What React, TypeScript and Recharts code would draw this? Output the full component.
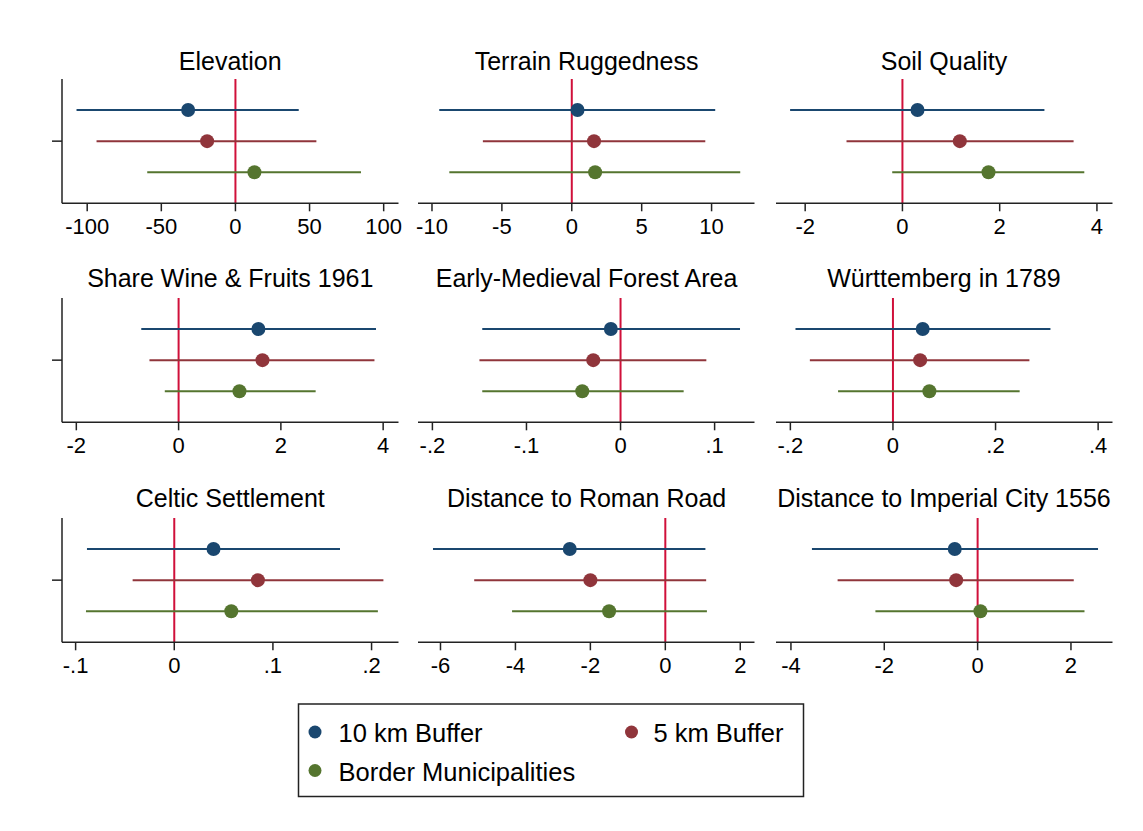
import React from 'react';
import { ScatterChart, Scatter, XAxis, YAxis, ErrorBar, ReferenceLine } from 'recharts';

const FONT = '"Liberation Sans", Arial, Helvetica, sans-serif';

// Panel titles (categories)
const panelTitles = [
  'Elevation',
  'Terrain Ruggedness',
  'Soil Quality',
  'Share Wine & Fruits 1961',
  'Early-Medieval Forest Area',
  'Württemberg in 1789',
  'Celtic Settlement',
  'Distance to Roman Road',
  'Distance to Imperial City 1556',
];

const seriesNames = ['10 km Buffer', '5 km Buffer', 'Border Municipalities'];
const seriesColors = ['#1a476f', '#90353b', '#55752f'];

// 10 km Buffer
const est10 = [-31.9, 0.41, 0.31, 1.56, -0.0103, 0.058, 0.0398, -2.55, -0.49];
const lo10 = [-107.2, -9.48, -2.31, -0.73, -0.147, -0.19, -0.0885, -6.2, -3.55];
const hi10 = [42.7, 10.26, 2.92, 3.86, 0.127, 0.307, 0.168, 1.07, 2.58];
// 5 km Buffer
const est5 = [-19.1, 1.59, 1.18, 1.64, -0.029, 0.053, 0.0848, -2.0, -0.46];
const lo5 = [-93.7, -6.36, -1.15, -0.57, -0.15, -0.162, -0.0422, -5.1, -3.0];
const hi5 = [54.6, 9.55, 3.52, 3.83, 0.0912, 0.266, 0.212, 1.09, 2.06];
// Border Municipalities
const estB = [12.8, 1.67, 1.77, 1.19, -0.0407, 0.071, 0.0578, -1.5, 0.06];
const loB = [-59.5, -8.76, -0.21, -0.27, -0.147, -0.107, -0.0895, -4.09, -2.19];
const hiB = [84.7, 12.05, 3.74, 2.68, 0.0671, 0.247, 0.2064, 1.11, 2.29];

// Axis ticks and ranges
const tickValues = [
  [-100, -50, 0, 50, 100],
  [-10, -5, 0, 5, 10],
  [-2, 0, 2, 4],
  [-2, 0, 2, 4],
  [-0.2, -0.1, 0, 0.1],
  [-0.2, 0, 0.2, 0.4],
  [-0.1, 0, 0.1, 0.2],
  [-6, -4, -2, 0, 2],
  [-4, -2, 0, 2],
];
const axisRanges = [
  [-117, 110],
  [-11, 13.07],
  [-2.6, 4.32],
  [-2.28, 4.3],
  [-0.2153, 0.1424],
  [-0.228, 0.428],
  [-0.1138, 0.2273],
  [-6.6, 2.38],
  [-4.32, 2.89],
];

const SERIES = [
  { name: seriesNames[0], color: seriesColors[0], est: est10, lo: lo10, hi: hi10, row: 3 },
  { name: seriesNames[1], color: seriesColors[1], est: est5, lo: lo5, hi: hi5, row: 2 },
  { name: seriesNames[2], color: seriesColors[2], est: estB, lo: loB, hi: hiB, row: 1 },
];

const COL_LEFT = [62, 418.3, 775.7];
const ROW_TOP = [79, 298.3, 517.7];
const TITLE_BASE = [69.5, 287, 507];
const PW = 336.5;
const PH = 124.3;
const PAD = 20;
const YW = 14;
const PADT = 5;
const XH = 45;
const AX = '#222';
const ZERO = '#d0103a';

const fmt = (v: number) => {
  const s = String(Math.round(v * 1000) / 1000);
  return s.replace(/^(-?)0\./, '$1.');
};

function Panel({ i }: { i: number }) {
  const col = i % 3;
  const row = Math.floor(i / 3);
  const left = COL_LEFT[col];
  const top = ROW_TOP[row];
  const showY = col === 0;
  return (
    <div style={{ position: 'absolute', left: left - PAD, top: top - PADT }}>
      <ScatterChart
        width={PW + 2 * PAD}
        height={PH + PADT + XH}
        margin={{ top: PADT, right: PAD, left: showY ? PAD - YW : PAD, bottom: 0 }}
      >
        <XAxis
          type="number"
          dataKey="x"
          domain={axisRanges[i]}
          ticks={tickValues[i]}
          allowDataOverflow
          interval={0}
          height={XH}
          tickSize={8}
          tickMargin={7}
          tickFormatter={fmt}
          fontSize={22}
          fontFamily={FONT}
          axisLine={{ stroke: AX, strokeWidth: 1.5 }}
          tickLine={{ stroke: AX, strokeWidth: 1.5 }}
          tick={{ fill: '#000', fontSize: 22, fontFamily: FONT }}
        />
        <YAxis
          type="number"
          dataKey="y"
          domain={[0, 4]}
          ticks={[2]}
          hide={!showY}
          width={YW}
          tickFormatter={() => ''}
          tickSize={10}
          axisLine={{ stroke: AX, strokeWidth: 1.5 }}
          tickLine={{ stroke: AX, strokeWidth: 1.5 }}
        />
        <ReferenceLine x={0} stroke={ZERO} strokeWidth={2} />
        {SERIES.map((s) => (
          <Scatter
            key={s.name}
            name={s.name}
            isAnimationActive={false}
            data={[
              {
                x: s.est[i],
                y: s.row,
                err: [s.est[i] - s.lo[i], s.hi[i] - s.est[i]],
              },
            ]}
            fill={s.color}
            shape={(p: any) => <circle cx={p.cx} cy={p.cy} r={7} fill={s.color} />}
          >
            <ErrorBar dataKey="err" direction="x" width={0} stroke={s.color} strokeWidth={2} />
          </Scatter>
        ))}
      </ScatterChart>
    </div>
  );
}

export default function App() {
  return (
    <div
      style={{
        position: 'absolute',
        left: 0,
        top: 0,
        width: 1143,
        height: 831,
        background: '#fff',
        fontFamily: FONT,
      }}
    >
      {panelTitles.map((_, i) => (
        <Panel key={i} i={i} />
      ))}
      <svg
        width={1143}
        height={831}
        style={{ position: 'absolute', left: 0, top: 0, pointerEvents: 'none' }}
      >
        {panelTitles.map((t, i) => (
          <text
            key={t}
            x={COL_LEFT[i % 3] + PW / 2}
            y={TITLE_BASE[Math.floor(i / 3)]}
            textAnchor="middle"
            fontSize={25}
            fontFamily={FONT}
            fill="#000"
          >
            {t}
          </text>
        ))}
        <rect x={298.5} y={704} width={505} height={92.5} fill="#fff" stroke={AX} strokeWidth={1.5} />
        {[
          { k: 0, cx: 315, cy: 732, tx: 338.5, ty: 741.5 },
          { k: 1, cx: 631.5, cy: 732, tx: 653.5, ty: 741.5 },
          { k: 2, cx: 315, cy: 770.5, tx: 338.5, ty: 780.5 },
        ].map((it) => (
          <g key={it.k}>
            <circle cx={it.cx} cy={it.cy} r={6.5} fill={seriesColors[it.k]} />
            <text x={it.tx} y={it.ty} fontSize={25.5} fontFamily={FONT} fill="#000">
              {seriesNames[it.k]}
            </text>
          </g>
        ))}
      </svg>
    </div>
  );
}
